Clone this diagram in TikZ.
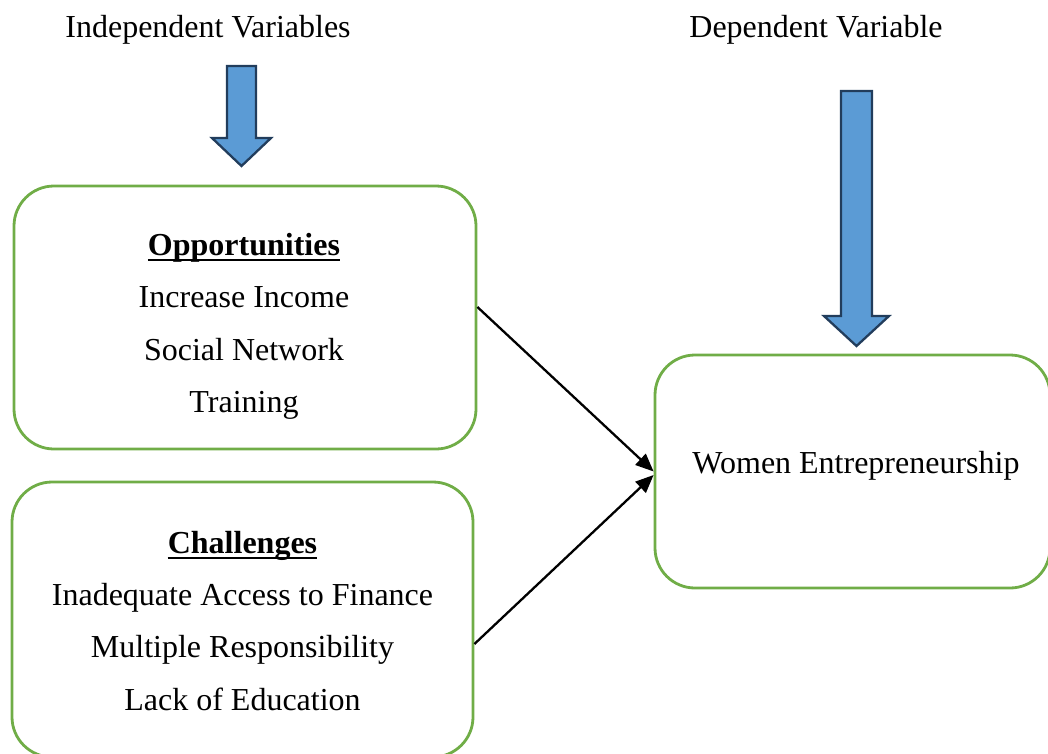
\documentclass[tikz,border=0pt]{standalone}
\usepackage{fontspec}
\setmainfont{Liberation Serif}
\usepackage{tikz}
\usetikzlibrary{arrows.meta}

\definecolor{boxgreen}{HTML}{70AD47}
\definecolor{arrowblue}{HTML}{5B9BD5}
\definecolor{arrowedge}{HTML}{223D5C}

\tikzset{
  txt/.style={font=\fontsize{32}{38}\selectfont, inner sep=0pt, anchor=base},
  head/.style={txt, font=\fontsize{32}{38}\selectfont\bfseries},
  roundbox/.style={draw=boxgreen, line width=2.8pt, rounded corners=40pt},
  link/.style={line width=2.3pt, -{Triangle[length=18pt,width=15pt]}},
  blockarrow/.style={fill=arrowblue, draw=arrowedge, line width=2.3pt, line join=miter}
}

\begin{document}
\begin{tikzpicture}[x=1pt, y=-1pt] %%%{{{
	 \path[use as bounding box, clip] (0,0) rectangle (1048,753);
	 % boxes
	 \node[roundbox, minimum width=462pt, minimum height=263pt] (opp) at (245,317.5) {};
	 \node[roundbox, minimum width=461pt, minimum height=275pt] (chal) at (242.5,619.5) {};
	 \node[roundbox, minimum width=395pt, minimum height=233pt] (wom) at (852.5,471.5) {};
	 % titles over the columns
	 \node[txt] (indep) at (208,37) {Independent Variables};
	 \node[txt] (dep) at (816,37) {Dependent Variable};
	 % fat arrows
	 \foreach \cx/\ya/\yb/\yc/\sw/\hw in {241.5/66/138/166/14.5/29.5, 856.5/91/316/346/15.5/32.5}
	   \draw[blockarrow] (\cx-\sw,\ya) -- (\cx+\sw,\ya) -- (\cx+\sw,\yb) -- (\cx+\hw,\yb)
	     -- (\cx,\yc) -- (\cx-\hw,\yb) -- (\cx-\sw,\yb) -- cycle;
	 % box texts
	 \node[head] (opphead) at (244,255) {Opportunities};
	 \foreach \t [count=\i] in {Increase Income, Social Network, Training}
	   \node[txt] (opp\i) at (244,255+52.5*\i) {\t};
	 \node[head] (chalhead) at (242.5,553) {Challenges};
	 \foreach \t [count=\i] in {Inadequate Access to Finance, Multiple Responsibility, Lack of Education}
	   \node[txt] (chal\i) at (242.5,553+52.4*\i) {\t};
	 \node[txt] (womtext) at (856,473) {Women Entrepreneurship};
	 % underlines
	 \foreach \x in {opphead, chalhead}
	   \draw[line width=2pt] ([yshift=-4.5pt]\x.base west) -- ([yshift=-4.5pt]\x.base east);
	 % connectors
	 \draw[link] ([yshift=10.5pt]opp.east) -- (wom.west);
	 \draw[link] ([yshift=-24.5pt]chal.east) -- ([yshift=-3.5pt]wom.west);
      \end{tikzpicture}
\end{document}
